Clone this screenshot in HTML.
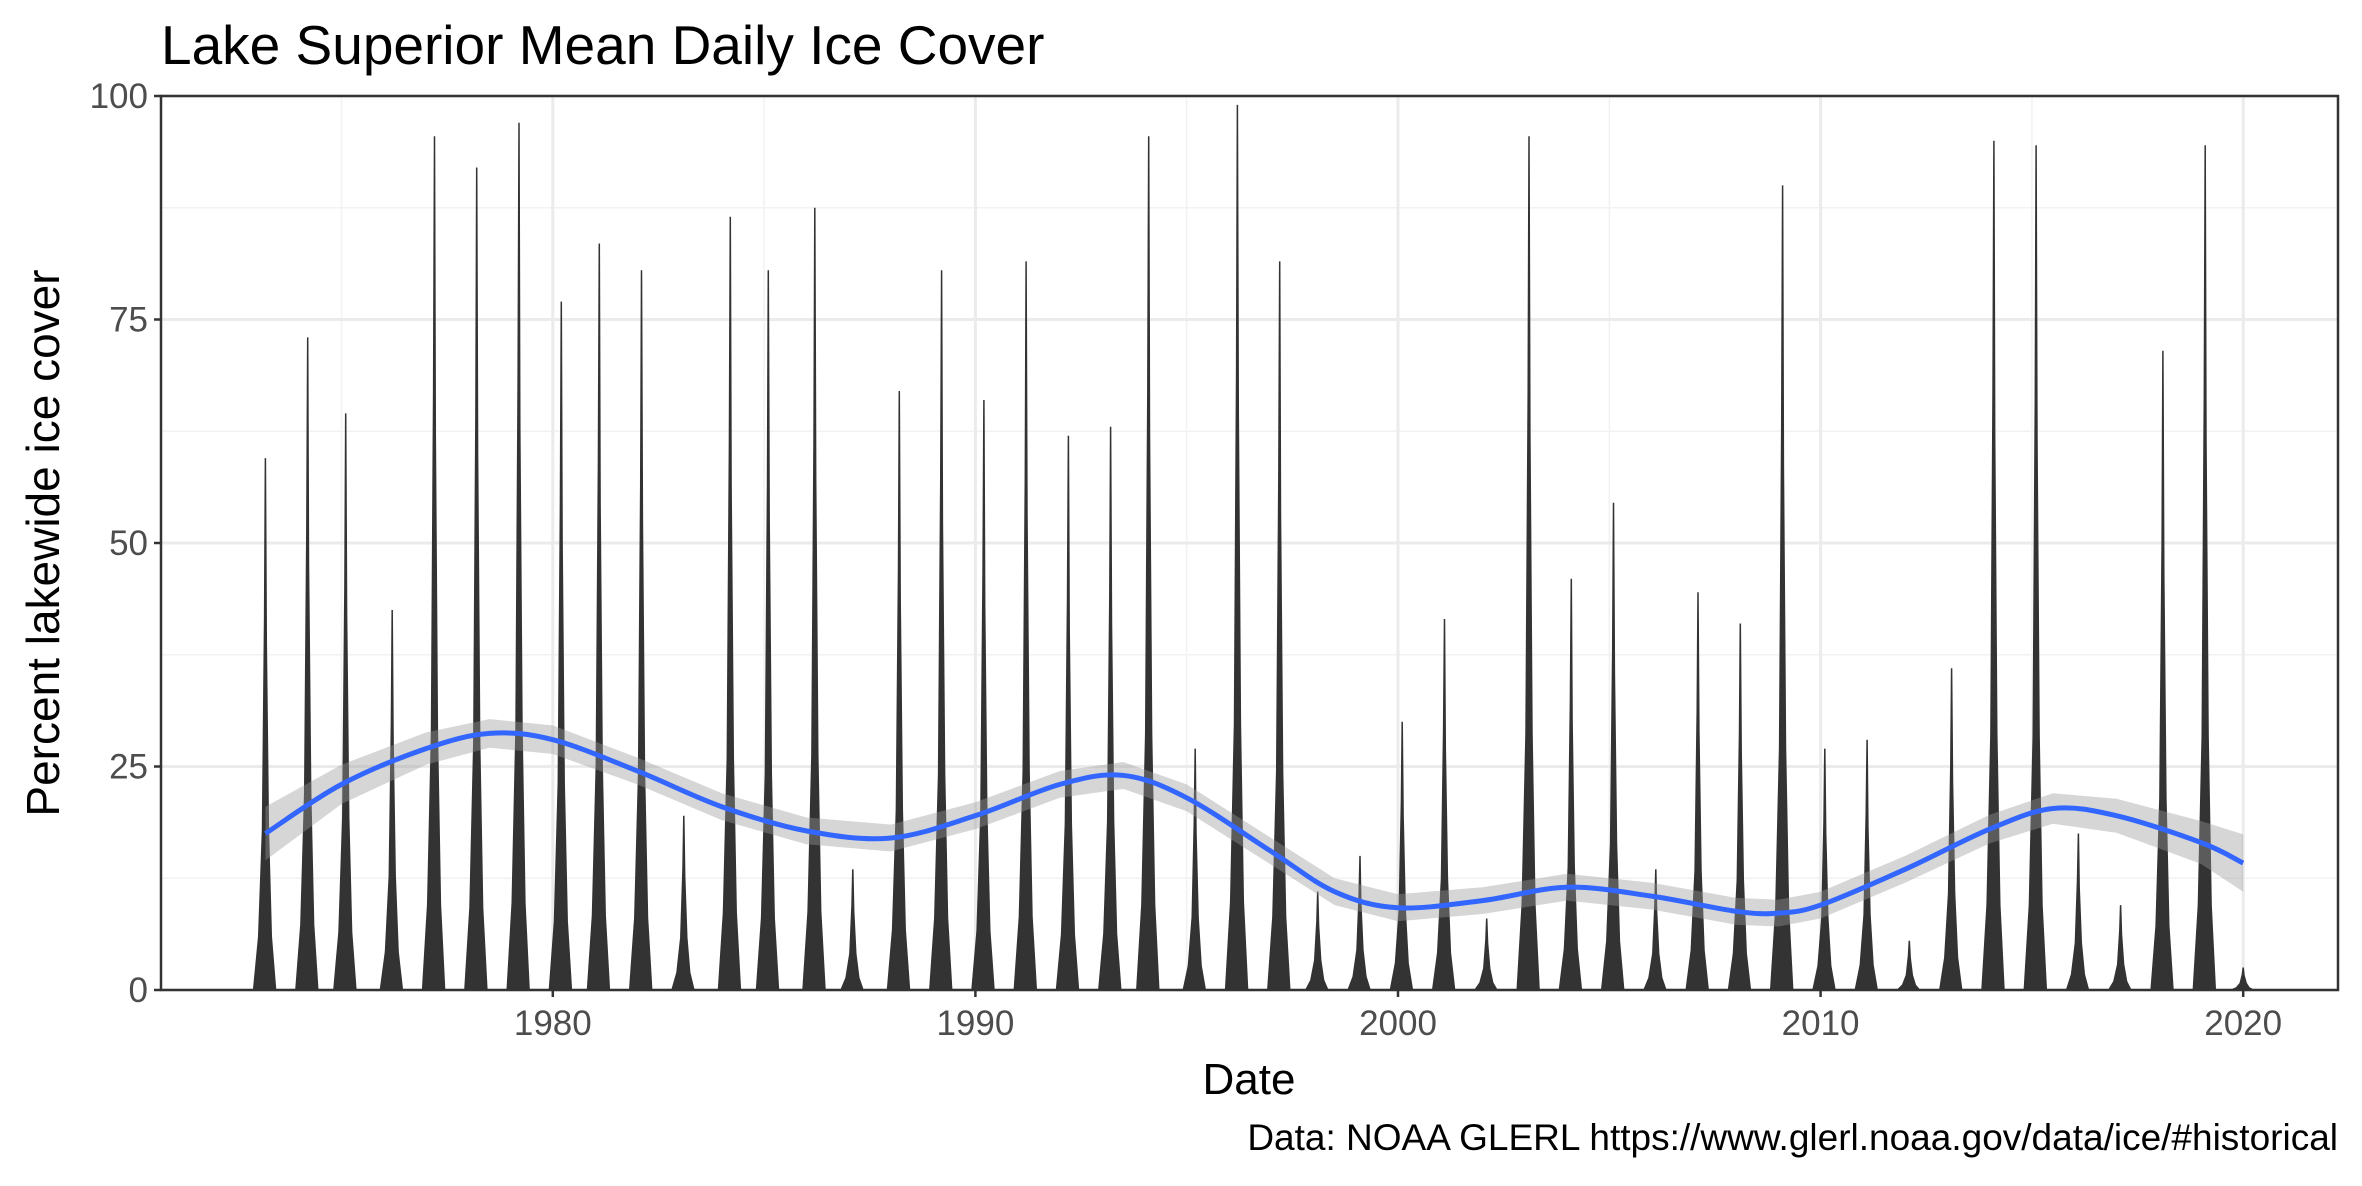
<!DOCTYPE html>
<html><head><meta charset="utf-8"><style>
body{margin:0;background:#fff}
svg text{font-family:"Liberation Sans",Arial,sans-serif}
</style></head><body>
<svg id="chart" width="2362" height="1181" viewBox="0 0 2362 1181" xmlns="http://www.w3.org/2000/svg">
<rect width="2362" height="1181" fill="#fff"/>
<g id="grid"></g>
<g id="marks"></g>
<g id="axes"></g>
<text x="161" y="64" font-size="55" fill="#000">Lake Superior Mean Daily Ice Cover</text>
<text transform="translate(59,543) rotate(-90)" text-anchor="middle" font-size="46" fill="#000">Percent lakewide ice cover</text>
<text x="1249" y="1094" text-anchor="middle" font-size="44" fill="#000">Date</text>
<text x="2338" y="1150" text-anchor="end" font-size="37" fill="#000">Data: NOAA GLERL https://www.glerl.noaa.gov/data/ice/#historical</text>
</svg>
<script>
const seasonDates=[1973.2,1974.2,1975.1,1976.2,1977.2,1978.2,1979.2,1980.2,1981.1,1982.1,1983.1,1984.2,1985.1,1986.2,1987.1,1988.2,1989.2,1990.2,1991.2,1992.2,1993.2,1994.1,1995.2,1996.2,1997.2,1998.1,1999.1,2000.1,2001.1,2002.1,2003.1,2004.1,2005.1,2006.1,2007.1,2008.1,2009.1,2010.1,2011.1,2012.1,2013.1,2014.1,2015.1,2016.1,2017.1,2018.1,2019.1,2020.0];
const seasonPeaks=[59.5,73,64.5,42.5,95.5,92,97,77,83.5,80.5,19.5,86.5,80.5,87.5,13.5,67,80.5,66,81.5,62,63,95.5,27,99,81.5,11,15,30,41.5,8,95.5,46,54.5,13.5,44.5,41,90,27,28,5.5,36,95,94.5,17.5,9.5,71.5,94.5,2.5];
const smoothYears=[1973.2,1975,1977,1978.5,1980,1982,1984,1986,1988,1990,1992,1993.5,1995,1997,1998.5,2000,2002,2004,2006,2008,2009,2010,2012,2014,2015.5,2017,2019,2020];
const smoothValues=[17.5,23,27,28.7,28,24.5,20.5,17.8,17,19.5,23,24,21.5,15.5,11,9.2,10,11.5,10.5,8.8,8.6,9.5,13.5,18,20.3,19.5,16.5,14.2];
const smoothSE=[3,2.2,1.8,1.6,1.6,1.5,1.5,1.5,1.5,1.5,1.5,1.5,1.5,1.5,1.5,1.5,1.5,1.5,1.5,1.5,1.5,1.5,1.5,1.6,1.7,1.9,2.4,3.2];
const xTicks=[1980,1990,2000,2010,2020];
const yTicks=[0,25,50,75,100];

const L=161,R=2338,T=96,B=990;
const x=v=>552.8+(v-1980)*42.26;
const y=v=>B-(v/100)*(B-T);
const NS="http://www.w3.org/2000/svg";
function mk(parent,tag,attrs){const e=document.createElementNS(NS,tag);for(const k in attrs)e.setAttribute(k,attrs[k]);parent.appendChild(e);return e;}
const grid=document.getElementById('grid'),marks=document.getElementById('marks'),axes=document.getElementById('axes');
mk(grid,'rect',{x:L,y:T,width:R-L,height:B-T,fill:'#fff'});
for(let i=0;i<yTicks.length-1;i++){const v=(yTicks[i]+yTicks[i+1])/2;const g=mk(grid,'line',{x1:L,x2:R,y1:y(v),y2:y(v),stroke:'#F2F2F2','stroke-width':1.5});
}
[1975,1985,1995,2005,2015].forEach(v=>{const g=mk(grid,'line',{x1:x(v),x2:x(v),y1:T,y2:B,stroke:'#F2F2F2','stroke-width':1.5});
});
yTicks.forEach(v=>{const g=mk(grid,'line',{x1:L,x2:R,y1:y(v),y2:y(v),stroke:'#EBEBEB','stroke-width':3});
});
xTicks.forEach(v=>{const g=mk(grid,'line',{x1:x(v),x2:x(v),y1:T,y2:B,stroke:'#EBEBEB','stroke-width':3});
});
const offs=[-0.28,-0.16,-0.07,-0.02,0,0.02,0.07,0.14,0.24];
const fr=[0,0.1,0.3,0.7,1,0.65,0.3,0.1,0];
seasonDates.forEach((d,i)=>{let p='';offs.forEach((o,j)=>{p+=(j?'L':'M')+x(d+o).toFixed(1)+','+y(seasonPeaks[i]*fr[j]).toFixed(1);});
const a=mk(marks,'path',{d:p+'Z',fill:'#333333',stroke:'#333333','stroke-width':1.5});
});
let up='',lo='';
smoothYears.forEach((v,i)=>{up+=(i?'L':'M')+x(v).toFixed(1)+','+y(smoothValues[i]+smoothSE[i]).toFixed(1);});
for(let i=smoothYears.length-1;i>=0;i--){lo+='L'+x(smoothYears[i]).toFixed(1)+','+y(smoothValues[i]-smoothSE[i]).toFixed(1);}
const band=mk(marks,'path',{d:up+lo+'Z',fill:'#999999','fill-opacity':0.4});

const pts=smoothYears.map((v,i)=>[x(v),y(smoothValues[i])]);
let d='M'+pts[0][0]+','+pts[0][1];
for(let i=0;i<pts.length-1;i++){const p0=pts[Math.max(i-1,0)],p1=pts[i],p2=pts[i+1],p3=pts[Math.min(i+2,pts.length-1)];
d+='C'+(p1[0]+(p2[0]-p0[0])/6)+','+(p1[1]+(p2[1]-p0[1])/6)+' '+(p2[0]-(p3[0]-p1[0])/6)+','+(p2[1]-(p3[1]-p1[1])/6)+' '+p2[0]+','+p2[1];}
const ln=mk(marks,'path',{d:d,fill:'none',stroke:'#3366FF','stroke-width':5});

const bd=mk(axes,'rect',{x:L,y:T,width:R-L,height:B-T,fill:'none',stroke:'#333333','stroke-width':2.5});

yTicks.forEach(v=>{const t=mk(axes,'line',{x1:L-7,x2:L,y1:y(v),y2:y(v),stroke:'#333','stroke-width':2.5});

const l=mk(axes,'text',{x:L-13,y:y(v)+12,'text-anchor':'end','font-size':35,fill:'#4D4D4D'});l.textContent=v;
});
xTicks.forEach(v=>{const t=mk(axes,'line',{x1:x(v),x2:x(v),y1:B,y2:B+7,stroke:'#333','stroke-width':2.5});

const l=mk(axes,'text',{x:x(v),y:B+45,'text-anchor':'middle','font-size':35,fill:'#4D4D4D'});l.textContent=v;
});
</script>
</body></html>
